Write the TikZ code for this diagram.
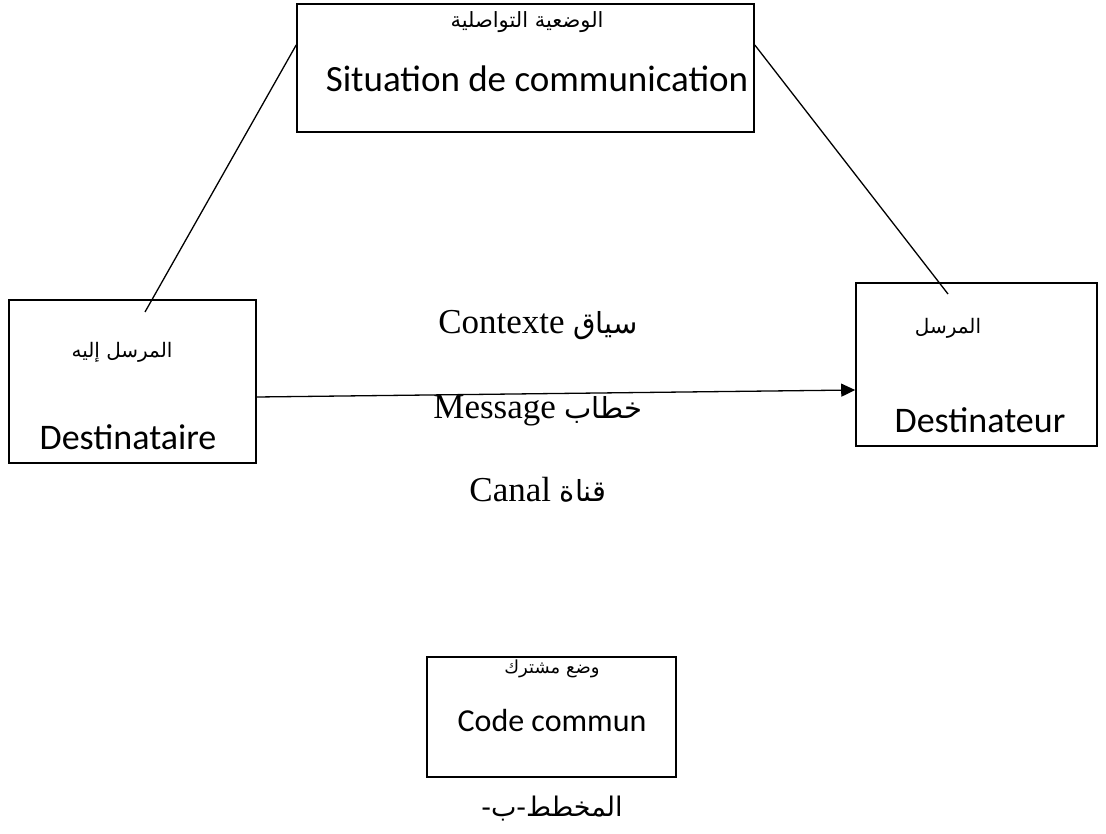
\documentclass[tikz,border=0pt]{standalone}
\usepackage{fontspec}
\setmainfont{Liberation Serif}
\newfontfamily\boxfont{Carlito}
\newfontfamily\arabicfont[Script=Arabic]{DejaVu Sans}
\TeXXeTstate=1
\usetikzlibrary{positioning,arrows.meta}

\begin{document}
\begin{tikzpicture}[
    x=1pt, y=-1pt,
    box/.style={
        draw=black,
        line width=1.6pt,
        inner sep=0pt
    },
    artxt/.style={inner sep=0pt, anchor=base, font=\arabicfont\fontsize{20}{24}\selectfont},
    latxt/.style={inner sep=0pt, anchor=base, font=\boxfont\fontsize{36}{42}\selectfont},
    midtxt/.style={inner sep=0pt, anchor=base, font=\fontsize{35}{42}\selectfont},
    link/.style={line width=1.3pt},
    >={Triangle[length=14pt,width=13pt]}
]
\useasboundingbox (0,0) rectangle (1106,834);

% boxes
\node[box, minimum width=457pt, minimum height=128pt] (sit) at (525.5,68) {};
\node[box, minimum width=247pt, minimum height=163pt] (recv) at (132.5,381.5) {};
\node[box, minimum width=241pt, minimum height=163pt] (send) at (976.5,364.5) {};
\node[box, minimum width=249pt, minimum height=120pt] (code) at (551.5,717) {};

% box texts
\node[artxt, font=\arabicfont\fontsize{21}{26}\selectfont] (sitar) at (527,28) {\beginR الوضعية التواصلية\endR};
\node[latxt, font=\boxfont\fontsize{37}{44}\selectfont] (siten) at (537,92) {Situation de communication};
\node[artxt] (recvar) at (122,357) {\beginR المرسل إليه\endR};
\node[latxt] (recven) at (128,449) {Destinataire};
\node[artxt] (sendar) at (948,334) {\beginR المرسل\endR};
\node[latxt] (senden) at (980,432) {Destinateur};
\node[artxt, font=\arabicfont\fontsize{18}{22}\selectfont] (codear) at (552,673) {\beginR وضع مشترك\endR};
\node[latxt, font=\boxfont\fontsize{32}{38}\selectfont] (codeen) at (552,731) {Code commun};

% middle labels
\node[midtxt] (ctx) at (538,334) {Contexte {\arabicfont\fontsize{29}{35}\selectfont\beginR سياق\endR}};
\node[midtxt] (msg) at (538,418) {Message {\arabicfont\fontsize{29}{35}\selectfont\beginR خطاب\endR}};
\node[midtxt] (can) at (538,501) {Canal {\arabicfont\fontsize{29}{35}\selectfont\beginR قناة\endR}};
\node[midtxt] (cap) at (552,816) {{\arabicfont\fontsize{27}{32}\selectfont\beginR المخطط-ب-\endR}};

% connectors
\coordinate (recvtop) at (145,312);
\coordinate (sendtop) at (948,294);
\draw[link] (sit.west |- 0,45) -- (recvtop);
\draw[link] (sit.east |- 0,45) -- (sendtop);
\draw[link,->] (recv.east |- 0,397) -- (send.west |- 0,390);

\end{tikzpicture}
\end{document}
